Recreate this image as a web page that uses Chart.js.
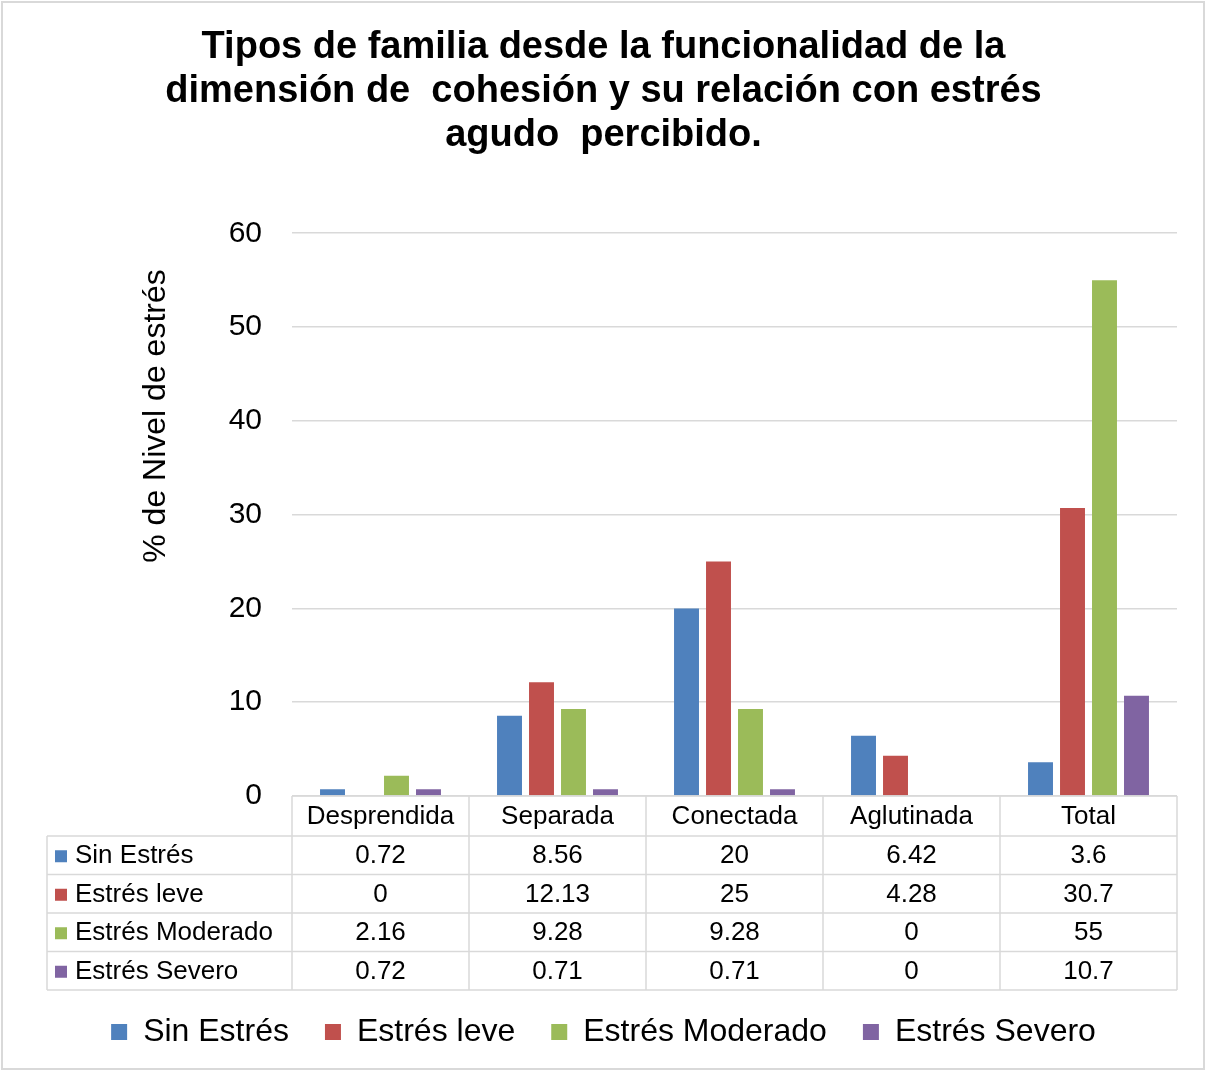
<!DOCTYPE html>
<html lang="es">
<head>
  <meta charset="UTF-8">
  <title>Tipos de familia y estrés agudo percibido</title>
  <style>
    body { margin: 0; background: #fff; }
    #chart { display: block; }
  </style>
</head>
<body>
  <canvas id="chart" width="1207" height="1070"></canvas>

  <script src="https://cdn.jsdelivr.net/npm/chart.js"></script>
  <script>
    const categorias = ['Desprendida', 'Separada', 'Conectada', 'Aglutinada', 'Total'];
    const sinEstres = [0.72, 8.56, 20, 6.42, 3.6];
    const estresLeve = [0, 12.13, 25, 4.28, 30.7];
    const estresModerado = [2.16, 9.28, 9.28, 0, 55];
    const estresSevero = [0.72, 0.71, 0.71, 0, 10.7];
    const series = ['Sin Estrés', 'Estrés leve', 'Estrés Moderado', 'Estrés Severo'];
    const colores = ['#4F81BD', '#C0504D', '#9BBB59', '#8064A2'];
    const ticksY = [0, 10, 20, 30, 40, 50, 60];

    const fuente = '"Liberation Sans", Arial, sans-serif';
    const gris = '#d9d9d9';

    const valores = [sinEstres, estresLeve, estresModerado, estresSevero];

    // fondo y marco exterior
    const fondoPlugin = {
      id: 'fondo',
      beforeDraw(chart) {
        const ctx = chart.ctx;
        ctx.save();
        ctx.fillStyle = '#fff';
        ctx.fillRect(0, 0, chart.width, chart.height);
        ctx.strokeStyle = gris;
        ctx.lineWidth = 2;
        ctx.strokeRect(2, 2, chart.width - 5, chart.height - 3);
        ctx.restore();
      }
    };

    // título del eje y (centrado como en el original)
    const tituloYPlugin = {
      id: 'tituloY',
      afterDraw(chart) {
        const ctx = chart.ctx;
        ctx.save();
        ctx.translate(156, 416);
        ctx.rotate(-Math.PI / 2);
        ctx.font = '32px ' + fuente;
        ctx.fillStyle = '#000';
        ctx.textAlign = 'center';
        ctx.textBaseline = 'middle';
        ctx.fillText('% de Nivel de estrés', 0, 0);
        ctx.restore();
      }
    };

    // tabla de datos debajo del gráfico
    const tablaPlugin = {
      id: 'tabla',
      afterDraw(chart) {
        const ctx = chart.ctx;
        const area = chart.chartArea;
        const n = categorias.length;
        const anchoCol = (area.right - area.left) / n;
        const top = area.bottom;
        const altoCab = 40;
        const altoFila = 38.5;
        const izq = area.left - 245;
        const fondoTabla = top + altoCab + altoFila * series.length;

        ctx.save();
        ctx.strokeStyle = gris;
        ctx.lineWidth = 1.5;
        ctx.beginPath();
        // horizontales
        ctx.moveTo(area.left, top);
        ctx.lineTo(area.right, top);
        for (let r = 0; r <= series.length; r++) {
          const y = top + altoCab + r * altoFila;
          ctx.moveTo(izq, y);
          ctx.lineTo(area.right, y);
        }
        // verticales
        ctx.moveTo(izq, top + altoCab);
        ctx.lineTo(izq, fondoTabla);
        for (let c = 0; c <= n; c++) {
          const x = area.left + c * anchoCol;
          ctx.moveTo(x, top);
          ctx.lineTo(x, fondoTabla);
        }
        ctx.stroke();

        ctx.fillStyle = '#000';
        ctx.font = '26px ' + fuente;
        ctx.textBaseline = 'middle';
        ctx.textAlign = 'center';
        categorias.forEach((cat, i) => {
          ctx.fillText(cat, chart.scales.x.getPixelForValue(i), top + altoCab / 2 + 1);
        });

        series.forEach((nombre, r) => {
          const yc = top + altoCab + r * altoFila + altoFila / 2 + 1;
          ctx.fillStyle = colores[r];
          ctx.fillRect(izq + 8, yc - 6, 12, 12);
          ctx.fillStyle = '#000';
          ctx.textAlign = 'left';
          ctx.fillText(nombre, izq + 28, yc);
          ctx.textAlign = 'center';
          valores[r].forEach((v, i) => {
            ctx.fillText(String(v), chart.scales.x.getPixelForValue(i), yc);
          });
        });
        ctx.restore();
      }
    };

    const ctx = document.getElementById('chart').getContext('2d');
    const chart = new Chart(ctx, {
      type: 'bar',
      data: {
        labels: categorias,
        datasets: series.map((nombre, i) => ({
          label: nombre,
          data: valores[i],
          backgroundColor: colores[i],
          borderColor: colores[i],
          borderWidth: 0
        }))
      },
      options: {
        responsive: false,
        animation: false,
        devicePixelRatio: 1,
        categoryPercentage: 0.723,
        barPercentage: 0.78,
        layout: {
          padding: { left: 0, right: 0, top: 0, bottom: 12 }
        },
        plugins: {
          title: {
            display: true,
            text: [
              'Tipos de familia desde la funcionalidad de la',
              'dimensión de  cohesión y su relación con estrés',
              'agudo  percibido.'
            ],
            color: '#000',
            font: { family: fuente, size: 38, weight: 'bold', lineHeight: 1.16 },
            padding: { top: 25, bottom: 76 }
          },
          legend: {
            position: 'bottom',
            labels: {
              color: '#000',
              font: { family: fuente, size: 32 },
              boxWidth: 16,
              boxHeight: 16,
              padding: 36
            }
          },
          tooltip: { enabled: false }
        },
        scales: {
          x: {
            grid: { display: false },
            border: { display: false },
            ticks: { display: false },
            afterFit(scale) { scale.height = 184; }
          },
          y: {
            min: ticksY[0],
            max: ticksY[ticksY.length - 1],
            afterBuildTicks(scale) {
              scale.ticks = ticksY.map(v => ({ value: v }));
            },
            afterFit(scale) { scale.width = 292; },
            grid: { color: gris, lineWidth: 1.5, drawTicks: false },
            border: { display: false },
            ticks: {
              color: '#000',
              font: { family: fuente, size: 30 },
              padding: 30
            }
          },
          // eje vacío a la derecha, sólo para dejar el margen del original
          margen: {
            type: 'linear',
            position: 'right',
            grid: { display: false },
            border: { display: false },
            ticks: { display: false },
            afterFit(scale) { scale.width = 30; }
          }
        }
      },
      plugins: [fondoPlugin, tituloYPlugin, tablaPlugin]
    });
  </script>
</body>
</html>
